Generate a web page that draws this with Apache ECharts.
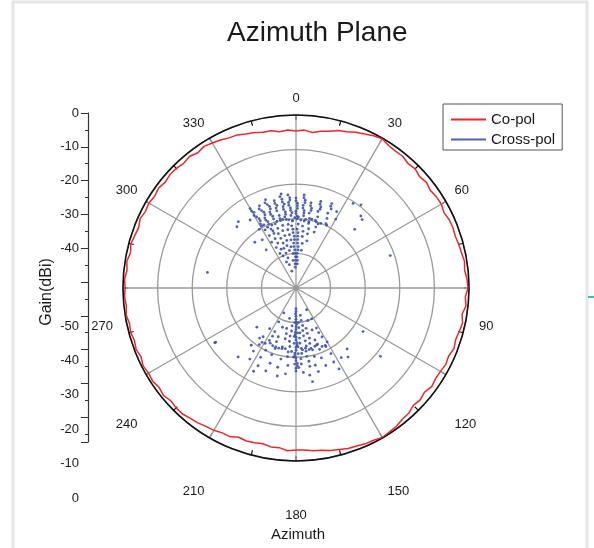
<!DOCTYPE html>
<html>
<head>
<meta charset="utf-8">
<script src="https://cdn.jsdelivr.net/npm/echarts@6/dist/echarts.min.js"></script>
<style>
  html, body { margin: 0; padding: 0; background: #fff; }
  #main { width: 594px; height: 548px; }
</style>
</head>
<body>
<div id="main"></div>
<script>
// angle ticks and gain labels
var angleTicks = [0, 30, 60, 90, 120, 150, 180, 210, 240, 270, 300, 330];
var gainTopLabels = [0, -10, -20, -30, -40];
var gainBottomLabels = [-50, -40, -30, -20, -10, 0];

// Co-pol gain (dB), sampled every 3 degrees from 0 to 360
var copolStep = 3;
var copolGain = [
  -4.6, -4.3, -4.8, -4.1, -3.7, -2.9, -2.5, -1.8, -1.3, -0.6,
  -0.2, -0.9, -1.1, -1.0, -1.6, -1.3, -1.9, -1.5, -2.0, -1.6,
  -1.5, -2.0, -1.5, -1.4, -1.6, -1.3, -1.1, -0.7, -1.0, -0.5,
  -0.3, -1.0, -0.6, -1.4, -0.8, -1.2, -1.5, -1.1, -1.7, -1.4,
  -1.8, -1.9, -1.5, -2.2, -1.7, -2.0, -1.3, -1.2, -0.6, -0.4,
  -0.1, -0.6, -0.7, -1.1, -1.2, -1.7, -2.0, -2.5, -2.7, -3.1,
  -3.2, -2.9, -3.6, -3.5, -4.0, -3.7, -3.5, -3.8, -3.0, -3.0,
  -2.5, -2.3, -1.8, -1.5, -1.0, -1.0, -1.3, -0.7, -1.1, -0.6,
  -0.8, -0.4, -1.0, -0.5, -0.9, -0.5, -0.8, -0.3, -0.7, -0.4,
  -0.6, -0.4, -0.9, -0.5, -1.1, -0.6, -1.0, -1.3, -0.7, -1.2,
  -0.9, -1.3, -0.9, -1.4, -1.0, -1.1, -1.5, -1.1, -1.7, -1.2,
  -1.6, -2.0, -2.5, -2.6, -3.2, -3.5, -4.0, -4.0, -4.6, -4.3,
  -4.6
];

// Cross-pol points [gain, angle]
var crossUpper = [
  [-23.5,330],[-24.3,330],[-25,331],[-25.8,330],[-26.5,331],[-27.3,332],[-28,332],[-28.8,331],[-29.5,331],[-31,332],[-33,333],[-35,332],[-37,334],[-39,335],
  [-24,336],[-24.8,335],[-25.5,336],[-26.2,337],[-27,337],[-27.8,336],[-28.5,336],[-29.2,337],[-30,337],[-31.5,337],[-32.2,338],[-33,338],[-34.5,337],[-36,338],[-38,339],[-40,338],[-42,340],
  [-23,341],[-23.8,340],[-24.5,341],[-25.2,342],[-26,342],[-26.8,341],[-27.5,341],[-28.2,342],[-29,342],[-30.5,342],[-32,343],[-33.5,342],[-35,343],[-36.5,344],[-38,343],[-39.5,344],[-41,345],[-43,344],[-45,346],
  [-24,346],[-24.8,346],[-25.5,347],[-26.2,346],[-27,346],[-28.5,347],[-30,347],[-31.5,348],[-33,347],[-34.5,348],[-36,349],[-37.5,348],[-39,350],
  [-22.5,351],[-23.2,350],[-24,351],[-24.8,351],[-25.5,352],[-26.2,351],[-27,351],[-27.8,352],[-28.5,352],[-29.2,351],[-30,352],[-31.5,353],[-33,352],[-34.5,353],[-36,354],[-38,353],[-40,355],[-42,354],
  [-23,355],[-23.8,356],[-24.5,356],[-25.2,355],[-26,355],[-26.8,356],[-27.5,356],[-28.2,357],[-29,356],[-30.5,357],[-32,356],[-33,357],[-34,357],[-35,358],[-36,358],[-37,357],[-38,357],[-39,358],[-40,358],[-41,359],[-42,359],[-43,358],[-44,358],
  [-24,0],[-24.8,0],[-25.5,1],[-26.2,1],[-27,1],[-27.8,0],[-28.5,0],[-29.2,1],[-30,1],[-31.5,2],[-33,1],[-34,2],[-35,2],[-36,2],[-37,2],[-38,3],[-39,3],[-40,2],[-41,2],[-42,3],[-43,3],
  [-23,5],[-23.8,5],[-24.5,6],[-25.2,6],[-26,5],[-26.8,5],[-27.5,6],[-28.2,6],[-29,6],[-30.5,7],[-32,6],[-33.5,7],[-35,7],[-37,8],[-39,8],
  [-25,10],[-25.8,10],[-26.5,11],[-27.2,11],[-28,10],[-29.5,11],[-31,11],[-32.5,12],[-34,12],[-36,13],
  [-24,16],[-24.8,16],[-25.5,17],[-26.2,17],[-27,16],[-28.5,17],[-30,17],[-31.5,18],[-33,18],
  [-23.5,23],[-24.3,23],[-25,24],[-26.5,23],[-28,24],[-29.5,25],
  [-30,328],[-29.5,333],[-30.5,339],[-30,344],[-29.8,349],[-30.2,354],[-29.7,359],[-30.3,4],[-30,8],[-29.6,13],[-30.4,19],[-30,21],[-29.8,26],
  [-30.6,335],[-29.4,347],[-30.6,357],[-29.5,2],[-30.5,11],[-29.7,16],
  [-24.6,319],[-25.4,316],[-26.3,326],[-32.2,318],[-24,280],[-20.5,34],[-19.5,38],[-22,42],[-22.5,44],[-26,45],[-21.2,71],[-27,30],[-25,28],[-33,325],[-36,322]
];
var crossLower = [
  [-44,180],[-43.2,180],[-42.5,181],[-41.8,180],[-41,180],[-40.2,180],[-39.5,179],[-38.8,180],[-38,180],[-37.2,181],[-36.5,181],[-35.8,180],[-35,180],[-34.2,179],[-33.5,179],[-32.8,180],[-32,180],[-31.2,181],[-30.5,181],[-29.8,180],[-29,180],[-28.2,179],[-27.5,179],[-26.8,180],[-26,180],
  [-40,182],[-37,178],[-34,182],[-31,178],[-28,181],[-36,182],[-33,178],[-30,182],[-27,178],
  [-40,176],[-38.5,176],[-37,175],[-35.5,176],[-34,176],[-32.5,175],[-31,175],[-29.5,176],[-28,176],[-25.5,175],
  [-42,171],[-40.5,171],[-39,170],[-37.5,171],[-36,171],[-34.5,170],[-33,170],[-31.5,171],[-30,171],[-28.5,170],[-27,170],[-24.5,171],[-22.5,170],
  [-38,166],[-36.5,166],[-35,165],[-33.5,166],[-32,166],[-29.5,165],[-27,166],[-25,165],
  [-40,160],[-37,159],[-34,160],[-32.5,160],[-31,159],[-28.5,160],[-26,159],
  [-43,154],[-40,153],[-37,153],[-35.5,153],[-34,152],[-31,153],[-28.5,152],[-26,153],[-23.5,152],
  [-39,186],[-37.5,186],[-36,187],[-34.5,187],[-33,186],[-30,187],[-27.5,186],[-25,187],
  [-41,192],[-38,193],[-36.5,192],[-35,192],[-32,193],[-29,192],[-26.5,193],[-24,192],
  [-38,199],[-35,200],[-33.5,200],[-32,199],[-29.5,200],[-27,199],[-24.5,200],
  [-42,206],[-39,207],[-36,206],[-34.5,206],[-33,207],[-30,206],[-27.5,207],[-25,206],[-23,207],
  [-36,213],[-33,214],[-30.5,213],[-28,214],[-25.5,213],
  [-32,150],[-31.5,156],[-32.3,162],[-31.8,168],[-32,174],[-31.6,184],[-32.2,190],[-31.9,196],[-32,202],[-31.7,209],[-32.1,216],
  [-31.4,153],[-32.6,159],[-31.5,165],[-32.4,171],[-31.4,187],[-32.5,193],[-31.5,199],[-32.4,205],[-31.5,212],
  [-21.7,236],[-26.9,123],[-18.6,129],[-27,140],[-25,143],[-29,218],[-24,220],[-34,225],[-22,236],[-26,147]
];

var chart = echarts.init(document.getElementById('main'));

var copolData = copolGain.map(function (g, i) { return [g, i * copolStep]; });
var crossData = crossUpper.concat(crossLower);

var font = 'Liberation Sans, Arial, sans-serif';

var option = {
  backgroundColor: '#fff',
  animation: false,
  textStyle: { fontFamily: font },
  title: {
    text: 'Azimuth Plane', left: 222, top: 14,
    textStyle: { fontSize: 28, fontWeight: 'normal', color: '#1a1a1a', fontFamily: font }
  },
  legend: {
    orient: 'vertical', left: 443, top: 104,
    padding: [8, 7, 3, 8], itemGap: 5,
    itemWidth: 35, itemHeight: 2,
    borderColor: '#555', borderWidth: 1,
    textStyle: { fontSize: 15, color: '#1a1a1a', fontFamily: font },
    data: [{ name: 'Co-pol', icon: 'rect' }, { name: 'Cross-pol', icon: 'rect' }]
  },
  polar: { center: [296, 288], radius: 173 },
  angleAxis: {
    type: 'value', min: 0, max: 360, interval: 30,
    startAngle: 90, clockwise: true,
    axisLine: { lineStyle: { color: '#111', width: 1.6 } },
    axisTick: { show: true, inside: true, length: 5, lineStyle: { color: '#111', width: 1.2 } },
    minorTick: { show: true, splitNumber: 2, length: 5, lineStyle: { color: '#111', width: 1.2 } },
    splitLine: { show: true, lineStyle: { color: '#9a9a9a', width: 1.3 } },
    axisLabel: {
      margin: 10, color: '#1a1a1a', fontSize: 13,
      formatter: function (v) {
        if (angleTicks.indexOf(v) < 0) return '';
        if (v === 90 || v === 270) return '{m|' + v + '}';
        if (v > 90 && v < 270) return '{b|' + v + '}';
        return '{a|' + v + '}';
      },
      rich: {
        a: { fontSize: 13, color: '#1a1a1a' },
        b: { fontSize: 13, color: '#1a1a1a', padding: [38, 0, 0, 0] },
        m: { fontSize: 13, color: '#1a1a1a', padding: [76, 0, 0, 0] }
      }
    }
  },
  radiusAxis: {
    type: 'value', min: -50, max: 0, interval: 10,
    axisLine: { show: false }, axisTick: { show: false }, axisLabel: { show: false },
    splitLine: { show: true, lineStyle: { color: '#9a9a9a', width: 1.3 } }
  },
  grid: [
    { left: 88, top: 113, width: 1, height: 169 },
    { left: 88, top: 282, width: 1, height: 160 },
    { left: 88, top: 326, width: 1, height: 172 }
  ],
  xAxis: [
    { gridIndex: 0, type: 'value', show: false },
    { gridIndex: 1, type: 'value', show: false },
    { gridIndex: 2, type: 'value', show: false }
  ],
  yAxis: [
    {
      gridIndex: 0, type: 'value', min: -50, max: 0, interval: 10,
      axisLine: { show: true, lineStyle: { color: '#333', width: 1.2 } },
      axisTick: { show: true, length: 7, lineStyle: { color: '#333' } },
      minorTick: { show: true, splitNumber: 2, length: 3, lineStyle: { color: '#333' } },
      splitLine: { show: false },
      axisLabel: {
        margin: 9, color: '#1a1a1a', fontSize: 13,
        formatter: function (v) { return gainTopLabels.indexOf(v) >= 0 ? String(v) : ''; }
      }
    },
    {
      gridIndex: 1, type: 'value', min: 0, max: 47.3, interval: 10, inverse: true,
      axisLine: { show: true, lineStyle: { color: '#333', width: 1.2 } },
      axisTick: { show: true, length: 7, lineStyle: { color: '#333' } },
      minorTick: { show: true, splitNumber: 2, length: 3, lineStyle: { color: '#333' } },
      splitLine: { show: false },
      axisLabel: { show: false }
    },
    {
      gridIndex: 2, type: 'value', min: -50, max: 0, interval: 10, inverse: true,
      axisLine: { show: false }, axisTick: { show: false }, splitLine: { show: false },
      axisLabel: {
        margin: 9, color: '#1a1a1a', fontSize: 13,
        formatter: function (v) { return gainBottomLabels.indexOf(v) >= 0 ? String(v) : ''; }
      }
    }
  ],
  graphic: [
    { type: 'rect', shape: { x: 13, y: 2, width: 574, height: 560 }, style: { fill: 'none', stroke: '#e6e6e6', lineWidth: 3 }, silent: true },
    { type: 'line', shape: { x1: 588, y1: 297, x2: 594, y2: 297 }, style: { stroke: '#3cbcb4', lineWidth: 2 }, silent: true },
    {
      type: 'text', x: 47, y: 292, rotation: Math.PI / 2,
      style: { text: 'Gain(dBi)', fill: '#1a1a1a', font: '16px ' + font, textAlign: 'center', textVerticalAlign: 'middle' }
    },
    {
      type: 'text', x: 298, y: 535,
      style: { text: 'Azimuth', fill: '#1a1a1a', font: '15px ' + font, textAlign: 'center', textVerticalAlign: 'middle' }
    }
  ],
  series: [
    {
      name: 'Co-pol', type: 'line', coordinateSystem: 'polar',
      data: copolData, symbol: 'none', smooth: false,
      lineStyle: { color: '#e8272e', width: 1.5 },
      itemStyle: { color: '#e8272e' }, z: 5
    },
    {
      name: 'Cross-pol', type: 'scatter', coordinateSystem: 'polar',
      data: crossData, symbol: 'circle', symbolSize: 2.8,
      itemStyle: { color: '#3a52a6', opacity: 0.9 }, z: 4
    }
  ]
};

chart.setOption(option);
</script>
</body>
</html>
